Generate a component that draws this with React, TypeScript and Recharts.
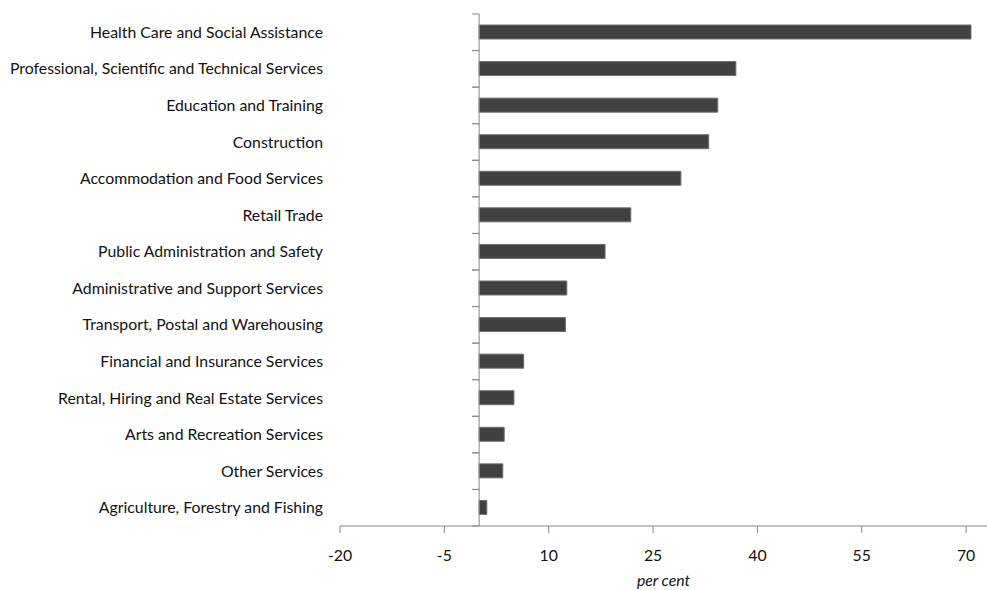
import { BarChart, Bar, XAxis, YAxis, ReferenceLine, Label } from "recharts"

const industries = [
  "Health Care and Social Assistance",
  "Professional, Scientific and Technical Services",
  "Education and Training",
  "Construction",
  "Accommodation and Food Services",
  "Retail Trade",
  "Public Administration and Safety",
  "Administrative and Support Services",
  "Transport, Postal and Warehousing",
  "Financial and Insurance Services",
  "Rental, Hiring and Real Estate Services",
  "Arts and Recreation Services",
  "Other Services",
  "Agriculture, Forestry and Fishing",
]

const growth = [70.7, 36.9, 34.3, 33.0, 29.0, 21.8, 18.1, 12.6, 12.4, 6.4, 5.0, 3.6, 3.4, 1.1]

const xTicks = [-20, -5, 10, 25, 40, 55, 70]

const data = industries.map((name, i) => ({ name, value: growth[i] }))

const WIDTH = 987
const HEIGHT = 590
const LABEL_WIDTH = 340
const TOP = 14
const X_AXIS_HEIGHT = 64
const DOMAIN: [number, number] = [-20, 73]
const AXIS_GREY = "#868686"
const FONT = "Lato, 'Open Sans', sans-serif"
const FONT_SIZE = 15.8

// x pixel of the zero line, where excel puts the category axis
const zeroX = LABEL_WIDTH + ((0 - DOMAIN[0]) / (DOMAIN[1] - DOMAIN[0])) * (WIDTH - LABEL_WIDTH)
const fallbackHalfBand = (HEIGHT - TOP - X_AXIS_HEIGHT) / industries.length / 2

function CategoryTick(props: any) {
  const { x, y, payload } = props
  const half = payload?.offset || fallbackHalfBand
  return (
    <g>
      <text
        x={x}
        y={y - 1}
        textAnchor="end"
        dominantBaseline="central"
        fontSize={FONT_SIZE}
        fontFamily={FONT}
        fill="#111"
      >
        {payload.value}
      </text>
      <line x1={zeroX - 7} x2={zeroX} y1={y - half} y2={y - half} stroke={AXIS_GREY} />
      <line x1={zeroX - 7} x2={zeroX} y1={y + half} y2={y + half} stroke={AXIS_GREY} />
    </g>
  )
}

export default function App() {
  return (
    <div style={{ position: "absolute", left: 0, top: 0, background: "#fff" }}>
      <BarChart
        width={WIDTH}
        height={HEIGHT}
        data={data}
        layout="vertical"
        margin={{ top: TOP, right: 0, bottom: 0, left: 0 }}
      >
        <XAxis
          type="number"
          domain={DOMAIN}
          ticks={xTicks}
          interval={0}
          height={X_AXIS_HEIGHT}
          stroke={AXIS_GREY}
          tickSize={7}
          tickMargin={17}
          tick={{ fontSize: FONT_SIZE, fontFamily: FONT, fill: "#111" }}
        >
          <Label
            value="per cent"
            position="insideBottom"
            offset={4}
            style={{ fontSize: FONT_SIZE, fontFamily: FONT, fontStyle: "italic", fill: "#111" }}
          />
        </XAxis>
        <YAxis
          type="category"
          dataKey="name"
          width={LABEL_WIDTH}
          axisLine={false}
          tickLine={false}
          tickSize={0}
          tickMargin={17}
          interval={0}
          tick={<CategoryTick />}
        />
        <ReferenceLine x={0} stroke={AXIS_GREY} />
        <Bar
          dataKey="value"
          barSize={14}
          fill="#404040"
          stroke="#6e6e6e"
          strokeWidth={1}
          isAnimationActive={false}
        />
      </BarChart>
    </div>
  )
}
